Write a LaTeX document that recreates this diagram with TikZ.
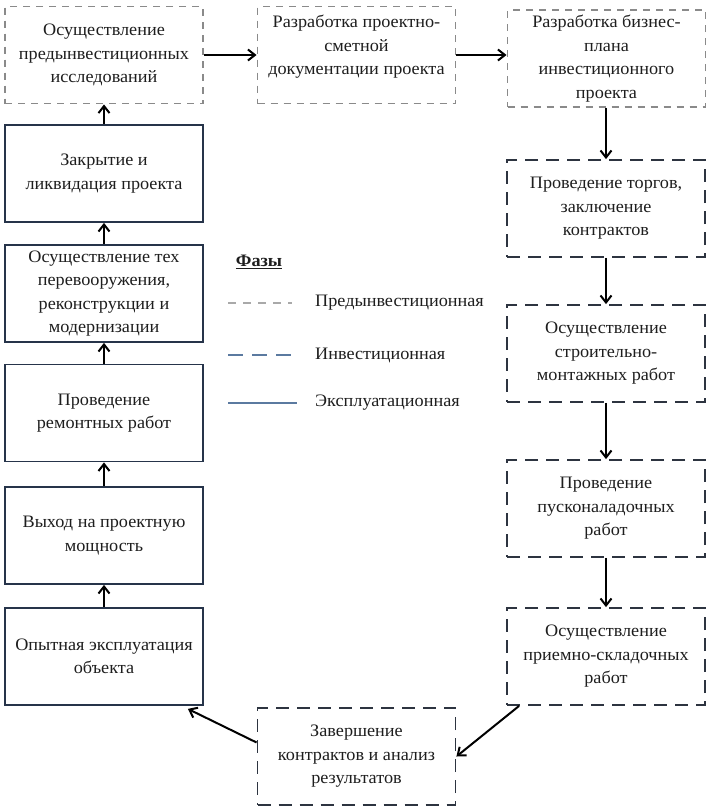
\documentclass[tikz,border=0pt]{standalone}
\usepackage{fontspec}
\setmainfont{Liberation Serif}[FakeStretch=1.04]
\usetikzlibrary{arrows.meta,calc}
\definecolor{preC}{HTML}{8A8A8A}
\definecolor{invC}{HTML}{2D3440}
\definecolor{expC}{HTML}{26344A}
\definecolor{lgpre}{HTML}{A9A9A9}
\definecolor{lgblue}{HTML}{5B7AA0}
\definecolor{txtc}{HTML}{1E1E1E}
\begin{document}
\begin{tikzpicture}[x=1pt,y=-1pt,
  box/.style={minimum width=198pt, minimum height=97pt, inner sep=0pt, align=center,
    font=\fontsize{17.5}{23.5}\selectfont, text=txtc},
  prebox/.style={box, draw=preC, line width=1.9pt, dash pattern=on 7pt off 6pt},
  invbox/.style={box, draw=invC, line width=1.8pt, dash pattern=on 13pt off 8pt},
  expbox/.style={box, draw=expC, line width=1.8pt},
  txt/.style={inner sep=0pt, align=center, font=\fontsize{17.5}{23.5}\selectfont, text=txtc},
  arr/.style={draw=black, line width=2pt, -{Straight Barb[length=7pt,width=11pt,line width=2pt]}},
  legtxt/.style={anchor=west, inner sep=0pt, font=\fontsize{17.5}{20}\selectfont, text=txtc},
  legpre/.style={draw=lgpre, line width=1.2pt, dash pattern=on 8pt off 7pt},
  leginv/.style={draw=lgblue, line width=2pt, dash pattern=on 15pt off 9pt},
  legexp/.style={draw=lgblue, line width=2pt}
]
\useasboundingbox[fill=white] (0,0) rectangle (714,812);

% top row
\node[prebox] (A) at (104,55) {Осуществление\\предынвестиционных\\исследований};
\node[prebox] (B) at (356.5,55) {};
\node[txt] (Bt) at (356.5,47) {Разработка проектно-\\сметной\\документации проекта};
\node[prebox] (C) at (606.5,58.5) {Разработка бизнес-\\плана\\инвестиционного\\проекта};

% right column
\node[invbox] (R1) at (606,208.5) {Проведение торгов,\\заключение\\контрактов};
\node[invbox] (R2) at (606,353.5) {Осуществление\\строительно-\\монтажных работ};
\node[invbox] (R3) at (606,508.5) {Проведение\\пусконаладочных\\работ};
\node[invbox] (R4) at (606,656.5) {Осуществление\\приемно-складочных\\работ};

% bottom
\node[invbox] (D) at (356.5,756.5) {Завершение\\контрактов и анализ\\результатов};

% left column
\node[expbox] (L1) at (104,173.5) {Закрытие и\\ликвидация проекта};
\node[expbox] (L2) at (104,293.5) {Осуществление тех\\перевооружения,\\реконструкции и\\модернизации};
\node[expbox] (L3) at (104,413) {Проведение\\ремонтных работ};
\node[expbox] (L4) at (104,535.5) {Выход на проектную\\мощность};
\node[expbox] (L5) at (104,656.5) {Опытная эксплуатация\\объекта};

% arrows
\draw[arr] (A.east) -- (B.west);
\draw[arr] (B.east) -- (B.east -| C.west);
\draw[arr] (C.south -| R1.north) -- (R1.north);
\draw[arr] (R1.south) -- (R2.north);
\draw[arr] (R2.south) -- (R3.north);
\draw[arr] (R3.south) -- (R4.north);
\draw[arr] ($(R4.south west)+(13,0)$) -- (D.east);
\draw[arr] ($(D.west)+(0,-14)$) -- ($(L5.south east)+(-16,3)$);
\draw[arr] (L5.north) -- (L4.south);
\draw[arr] (L4.north) -- (L3.south);
\draw[arr] (L3.north) -- (L2.south);
\draw[arr] (L2.north) -- (L1.south);
\draw[arr] (L1.north) -- (A.south);

% legend
\node[inner sep=0pt, font=\fontsize{17.5}{20}\selectfont\bfseries, text=txtc] (ph) at (259,262) {\underline{Фазы}};
\coordinate (p1) at (228,303); \coordinate (p2) at (292,303);
\coordinate (i1) at (228,355); \coordinate (i2) at (297,355);
\coordinate (e1) at (228,403); \coordinate (e2) at (297,403);
\draw[legpre] (p1) -- (p2);
\draw[leginv] (i1) -- (i2);
\draw[legexp] (e1) -- (e2);
\node[legtxt] (lp) at (315,303) {Предынвестиционная};
\node[legtxt] (li) at (315,355) {Инвестиционная};
\node[legtxt] (le) at (315,403) {Эксплуатационная};
\end{tikzpicture}
\end{document}
